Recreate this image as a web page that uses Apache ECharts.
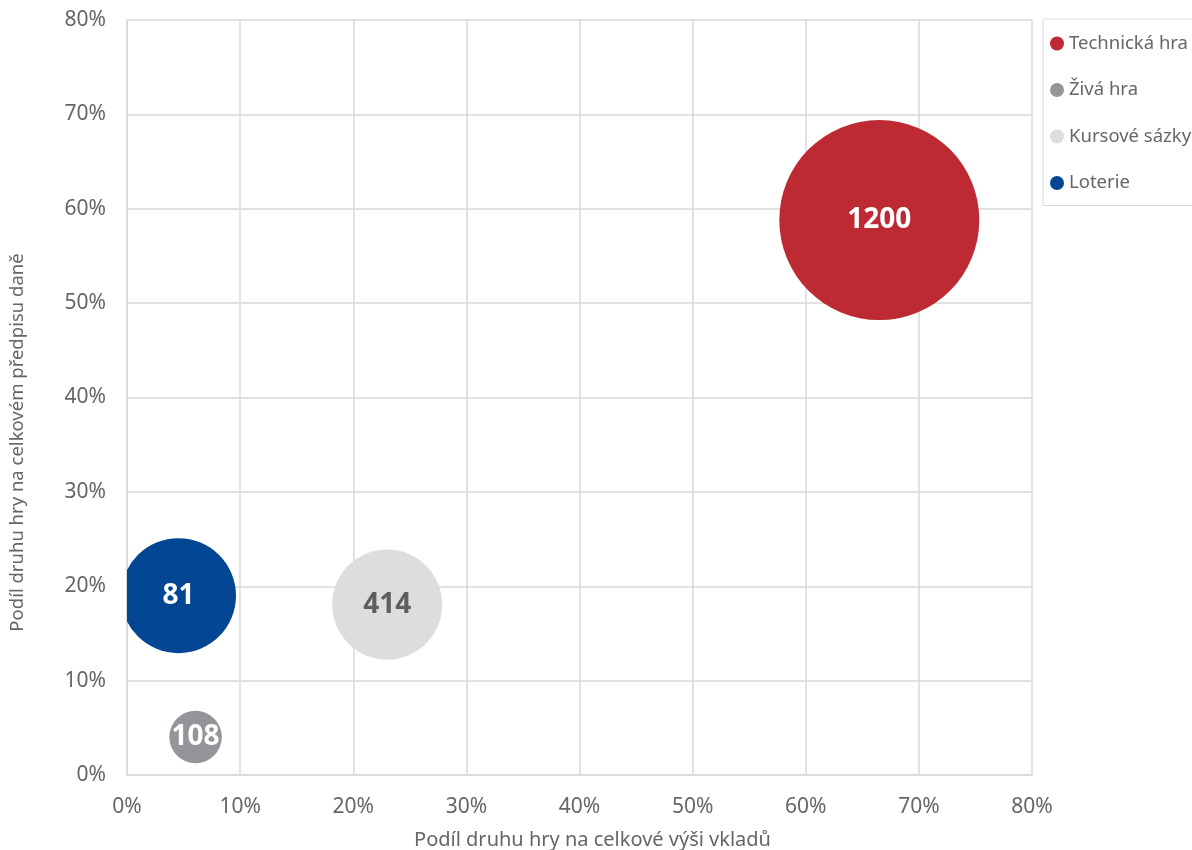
<!DOCTYPE html>
<html>
<head>
<meta charset="utf-8">
<script src="https://cdn.jsdelivr.net/npm/echarts@6/dist/echarts.min.js"></script>
<style>
html,body{margin:0;padding:0;background:#fff;}
#chart{width:1192px;height:850px;}
</style>
</head>
<body>
<div id="chart"></div>
<script>
// ---- data ----
const categories = ['Technická hra', 'Živá hra', 'Kursové sázky', 'Loterie'];
const depositShare = [0.665, 0.0606, 0.230, 0.0455];   // x: share of total deposits
const taxShare = [0.588, 0.0403, 0.1806, 0.190];       // y: share of total tax assessment
const bubbleSize = [100, 6.9, 30.3, 33.1];             // bubble size value (area)
const bubbleLabels = [1200, 108, 414, 81];             // data labels
const xTicks = [0, 0.1, 0.2, 0.3, 0.4, 0.5, 0.6, 0.7, 0.8];
const yTicks = [0, 0.1, 0.2, 0.3, 0.4, 0.5, 0.6, 0.7, 0.8];
const xTitle = 'Podíl druhu hry na celkové výši vkladů';
const yTitle = 'Podíl druhu hry na celkovém předpisu daně';

// ---- styles ----
const colors = ['#BE2A33', '#939598', '#DCDDDF', '#034694'];
const labelColors = ['#ffffff', '#ffffff', '#5f5f5f', '#ffffff'];
const maxDiameter = 200;
const maxSize = Math.max.apply(null, bubbleSize);
const FONT = 'Noto Sans';
const TXT = '#666666';

const series = categories.map(function (name, i) {
  return {
    name: name,
    type: 'custom',
    clip: true,
    encode: { x: 0, y: 1 },
    data: [[depositShare[i], taxShare[i], bubbleSize[i], bubbleLabels[i]]],
    itemStyle: { color: colors[i] },
    renderItem: function (params, api) {
      const c = api.coord([api.value(0), api.value(1)]);
      const r = maxDiameter / 2 * Math.sqrt(api.value(2) / maxSize);
      return {
        type: 'circle',
        shape: { cx: c[0], cy: c[1], r: r },
        style: { fill: colors[i] },
        textContent: {
          style: {
            text: String(api.value(3)),
            fill: labelColors[i],
            fontFamily: FONT,
            fontWeight: 'bold',
            fontSize: 28
          }
        },
        textConfig: { position: 'inside' }
      };
    },
    emphasis: { disabled: true }
  };
});

const chart = echarts.init(document.getElementById('chart'), null, { renderer: 'canvas' });
chart.setOption({
  animation: false,
  backgroundColor: '#ffffff',
  textStyle: { fontFamily: FONT },
  grid: { left: 127, right: 160, top: 20, bottom: 75, containLabel: false, outerBoundsMode: 'none' },
  legend: {
    orient: 'vertical',
    left: 1043,
    top: 19,
    padding: [15, 60, 13, 7],
    itemGap: 27.5,
    itemWidth: 14,
    itemHeight: 14,
    icon: 'circle',
    borderColor: '#d9d9d9',
    borderWidth: 1,
    data: categories.map(function (n, i) { return { name: n, itemStyle: { color: colors[i] } }; }),
    textStyle: { color: TXT, fontSize: 18.5, fontFamily: FONT }
  },
  xAxis: {
    type: 'value',
    min: xTicks[0],
    max: xTicks[xTicks.length - 1],
    interval: xTicks[1] - xTicks[0],
    name: xTitle,
    nameLocation: 'middle',
    nameGap: 55,
    nameTextStyle: { color: TXT, fontSize: 20, fontFamily: FONT, padding: [0, 0, 0, 26] },
    axisLine: { show: true, lineStyle: { color: '#d9d9d9', width: 1.5 } },
    axisTick: { show: false },
    splitLine: { show: true, lineStyle: { color: '#d9d9d9', width: 1.5 } },
    axisLabel: {
      color: TXT, fontSize: 21, fontFamily: FONT, margin: 22,
      formatter: function (v) { return Math.round(v * 100) + '%'; }
    }
  },
  yAxis: {
    type: 'value',
    min: yTicks[0],
    max: yTicks[yTicks.length - 1],
    interval: yTicks[1] - yTicks[0],
    name: yTitle,
    nameLocation: 'middle',
    nameGap: 100,
    nameRotate: 90,
    nameTextStyle: { color: TXT, fontSize: 18.5, fontFamily: FONT, padding: [0, 90, 0, 0] },
    axisLine: { show: true, lineStyle: { color: '#d9d9d9', width: 1.5 } },
    axisTick: { show: false },
    splitLine: { show: true, lineStyle: { color: '#d9d9d9', width: 1.5 } },
    axisLabel: {
      color: TXT, fontSize: 21, fontFamily: FONT, margin: 21,
      formatter: function (v) { return Math.round(v * 100) + '%'; }
    }
  },
  series: series
});
</script>
</body>
</html>
